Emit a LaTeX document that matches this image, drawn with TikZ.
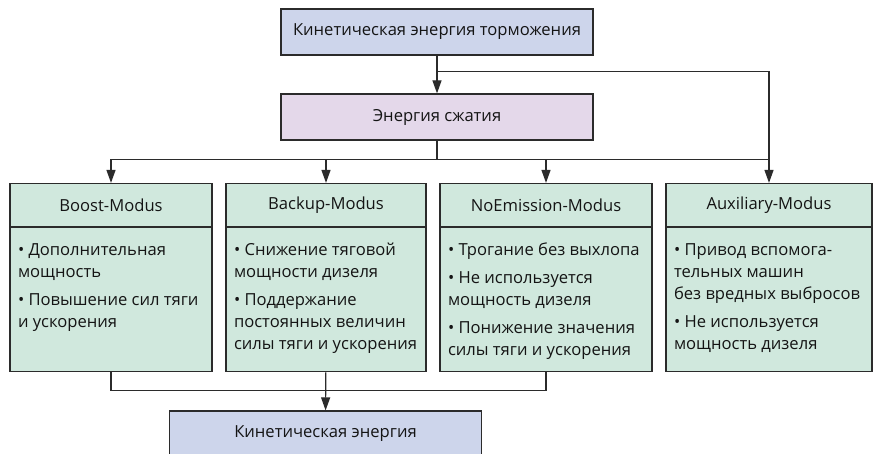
\documentclass[tikz,border=0pt]{standalone}
\usepackage{fontspec}
\setmainfont{Open Sans}
\usetikzlibrary{arrows.meta}
\usetikzlibrary{positioning}

\definecolor{kinblue}{HTML}{CDD5EB}
\definecolor{compviolet}{HTML}{E4D8EA}
\definecolor{modegreen}{HTML}{D0E8DD}
\definecolor{linegray}{HTML}{2B2B2B}

% body text of a mode box: fixed height, top aligned, no wrapping
\newcommand{\modetext}[2]{\parbox[t][128pt][t]{#1}{%
  \begin{tabular}[t]{@{}l@{}}\rule{0pt}{20pt}#2\end{tabular}}}

\begin{document}
\begin{tikzpicture}[x=1pt, y=-1pt, line width=1.2pt, draw=linegray,
  every node/.style={font=\fontsize{16.6}{22}\selectfont, text=black!92},
  box/.style={rectangle, draw=linegray, inner sep=0pt},
  energy/.style={box, fill=kinblue, minimum width=312pt, minimum height=46pt},
  modehead/.style={box, fill=modegreen, minimum height=43pt},
  modebody/.style={box, fill=modegreen, inner xsep=8pt, inner ysep=8pt, anchor=north},
  >={Triangle[length=13pt, width=9pt]}]
\useasboundingbox (0,0) rectangle (874,454);

\draw (437,32) node[energy, name = kin]{Кинетическая энергия торможения};
\draw (437,117) node[energy, fill = compviolet, name = comp]{Энергия сжатия};

% the four modes
\draw (111,205) node[modehead, minimum width = 202pt, name = boosth]{Boost-Modus};
\draw (boosth.south) node[modebody, name = boostb]{\modetext{186pt}{%
  • Дополнительная\\мощность\\[6pt]• Повышение сил тяги\\и ускорения}};
\draw (326,205) node[modehead, minimum width = 200pt, name = backh]{Backup-Modus};
\draw (backh.south) node[modebody, name = backb]{\modetext{184pt}{%
  • Снижение тяговой\\мощности дизеля\\[6pt]• Поддержание\\постоянных величин\\силы тяги и ускорения}};
\draw (546,205) node[modehead, minimum width = 212pt, name = noemh]{NoEmission-Modus};
\draw (noemh.south) node[modebody, name = noemb]{\modetext{196pt}{%
  • Трогание без выхлопа\\[6pt]• Не используется\\мощность дизеля\\[6pt]• Понижение значения\\силы тяги и ускорения}};
\draw (769,205) node[modehead, minimum width = 206pt, name = auxh]{Auxiliary-Modus};
\draw (auxh.south) node[modebody, name = auxb]{\modetext{190pt}{%
  • Привод вспомога-\\тельных машин\\без вредных выбросов\\[6pt]• Не используется\\мощность дизеля}};

\draw (325.5,434) node[energy, name = kinout]{Кинетическая энергия};

% energy flow
\draw[->] (kin) -- (comp);
\draw[->] (kin.south) ++(0,16) -| (auxh);
\draw (comp.south) -- ++(0,19) coordinate (split);
\draw (split) -- (split -| auxh);
\draw[->] (split) -| (boosth);
\draw[->] (split) -| (backh);
\draw[->] (split) -| (noemh);
\draw (boostb.south) -- ++(0,18) coordinate (merge) -| (noemb.south);
\draw[->] (backb) -- (kinout);
\end{tikzpicture}
\end{document}
